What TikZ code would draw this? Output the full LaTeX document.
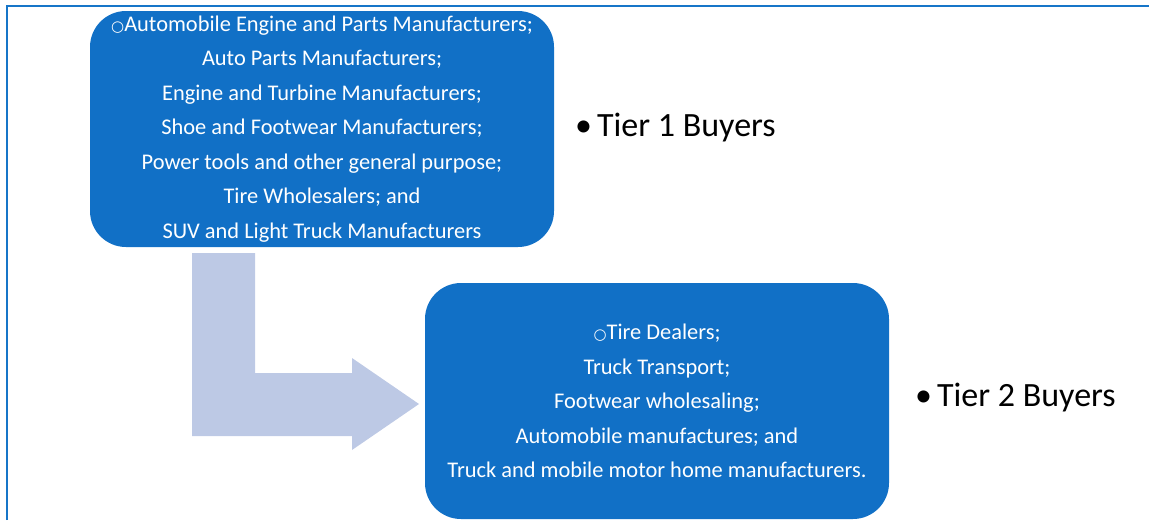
\documentclass[tikz,border=0pt]{standalone}
\usepackage{fontspec}
\setmainfont{Carlito}
\newfontfamily\symfont{DejaVu Sans}
\newcommand{\opencirc}{{\symfont\fontsize{15}{15}\selectfont ○}}
\definecolor{boxblue}{RGB}{17,112,198}
\definecolor{frameblue}{RGB}{22,117,200}
\definecolor{arrowfill}{RGB}{189,201,229}
\begin{document}
\begin{tikzpicture}[x=1pt,y=-1pt,
  buyerbox/.style={fill=boxblue, draw=none, rounded corners=36pt,
    minimum width=464pt, minimum height=236pt, inner sep=0pt,
    text=white, align=center, font=\fontsize{22.4}{34.5}\selectfont},
  tierlabel/.style={anchor=west, inner sep=0pt, font=\fontsize{34}{40}\selectfont}]
\useasboundingbox (0,0) rectangle (1149,520);
% frame edges
\draw[frameblue, line width=2.2pt] (7,520) -- (7,6) -- (1149,6);
% the two buyer groups
\node[buyerbox] (tierone) at (322,129) {%
  \opencirc Automobile Engine and Parts Manufacturers;\\
  Auto Parts Manufacturers;\\
  Engine and Turbine Manufacturers;\\
  Shoe and Footwear Manufacturers;\\
  Power tools and other general purpose;\\
  Tire Wholesalers; and\\
  SUV and Light Truck Manufacturers};
\node[buyerbox] (tiertwo) at (657,401) {%
  \opencirc Tire Dealers;\\
  Truck Transport;\\
  Footwear wholesaling;\\
  Automobile manufactures; and\\
  Truck and mobile motor home manufacturers.};
% labels
\node[tierlabel] (labone) at (575,128) {\textbullet\hspace{5pt}Tier 1 Buyers};
\node[tierlabel] (labtwo) at (915,398) {\textbullet\hspace{5pt}Tier 2 Buyers};
% bent arrow from the first group to the second
\fill[arrowfill] (192,253) -- (255,253) -- (255,373) -- (352,373) -- (352,358)
  -- (419,404) -- (352,450) -- (352,436) -- (192,436) -- cycle;
\end{tikzpicture}
\end{document}
